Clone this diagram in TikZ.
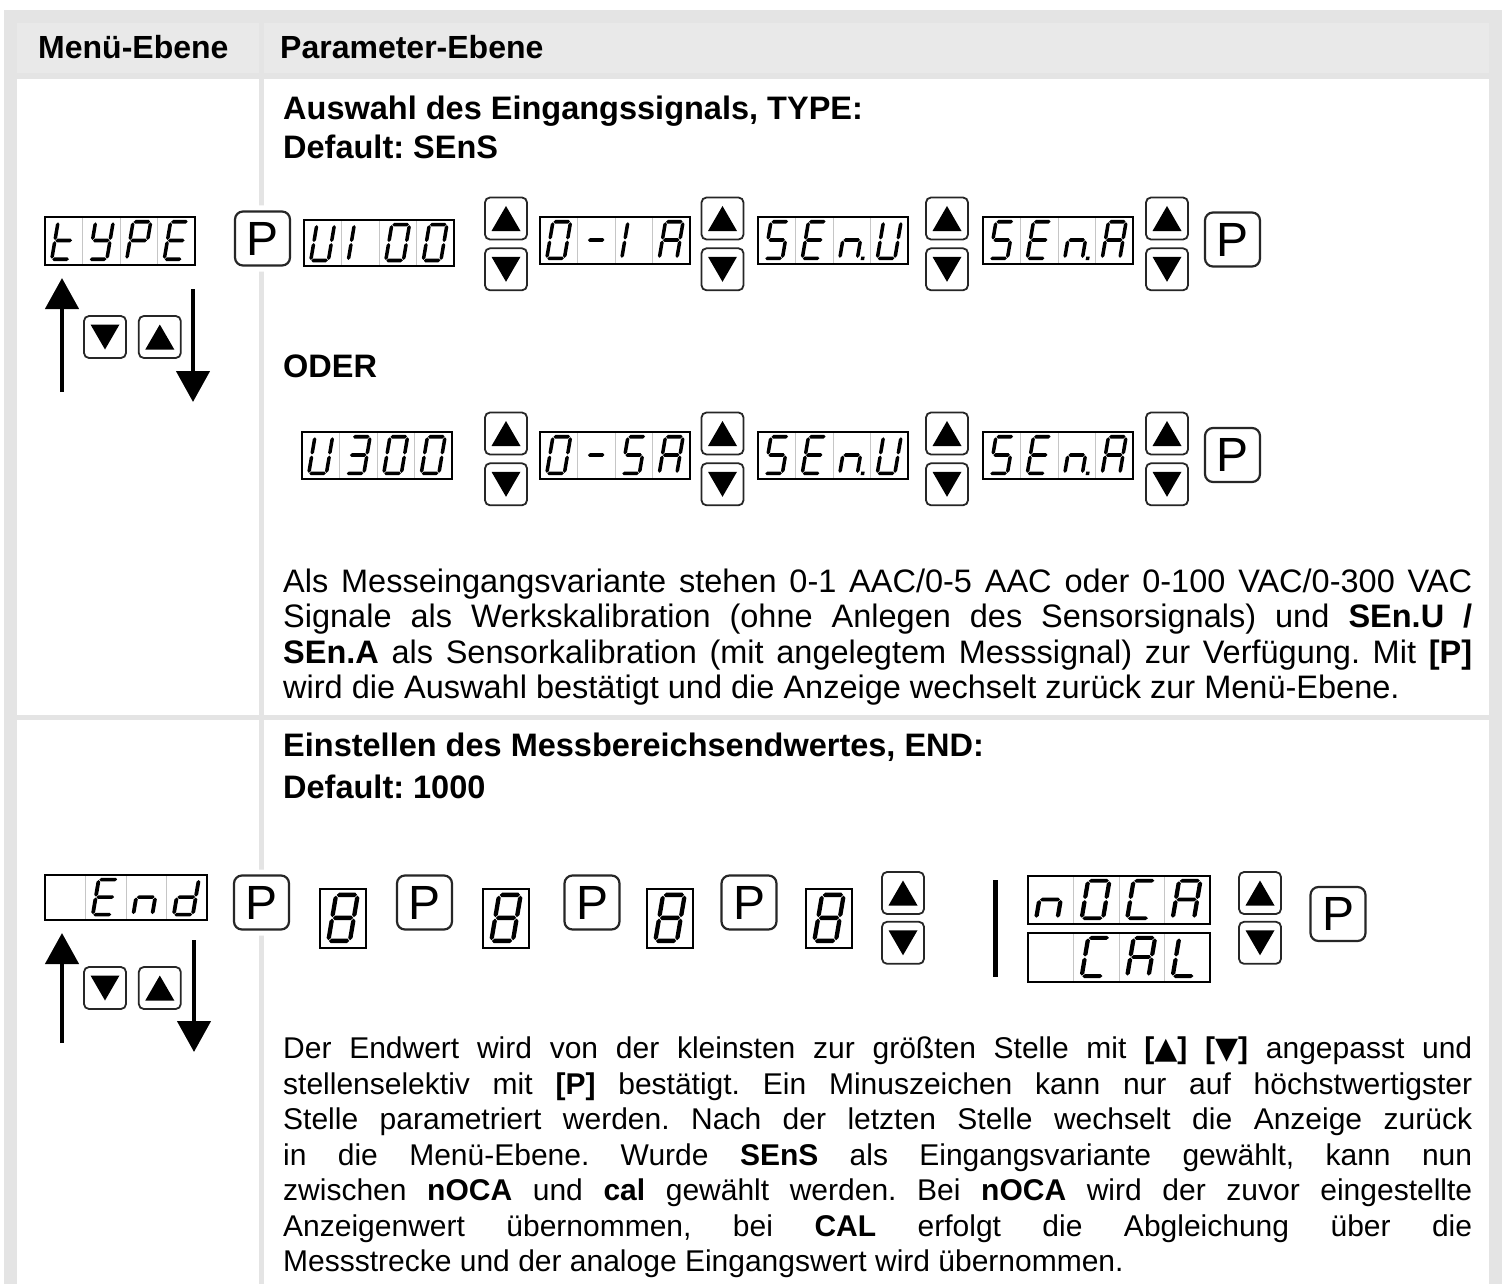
\documentclass[tikz,border=0pt]{standalone}
\usepackage{fontspec}
\setmainfont{Liberation Sans}
\newfontfamily\symfont{DejaVu Sans}
\usepackage{xcolor}
\usetikzlibrary{arrows.meta,positioning,calc}

\definecolor{framegray}{HTML}{E4E4E4}
\definecolor{headgray}{HTML}{E9E9E9}

% seven-segment glyphs on a 10 x 20 grid
\newcommand{\lcdh}[1]{(0.3,#1)--(1.3,#1+1)--(8.7,#1+1)--(9.7,#1)--(8.7,#1-1)--(1.3,#1-1)--cycle}
\newcommand{\lcdv}[2]{(#1,#2+0.3)--(#1+1,#2+1.3)--(#1+1,#2+8.7)--(#1,#2+9.7)--(#1-1,#2+8.7)--(#1-1,#2+1.3)--cycle}
\newcommand{\lcdsega}{\lcdh{20}}
\newcommand{\lcdsegb}{\lcdv{10}{10}}
\newcommand{\lcdsegc}{\lcdv{10}{0}}
\newcommand{\lcdsegd}{\lcdh{0}}
\newcommand{\lcdsege}{\lcdv{0}{0}}
\newcommand{\lcdsegf}{\lcdv{0}{10}}
\newcommand{\lcdsegg}{\lcdh{10}}
\newcommand{\lcdsegp}{(12,-1) rectangle (14,1)}
\newcommand{\lcdsegx}{}

% display: name, north west, cells, cell width, height, segments per cell
\newcommand{\lcd}[6]{%
  \foreach \k in {1,...,#3}
    \draw[lcdsep] ($#2+(\k*#4,0)$) -- ++(0,#5);
  \node[lcdbox, minimum width=#3*#4pt, minimum height=#5pt] (#1) at #2 {};
  \foreach \segs [count=\i from 0] in {#6} {
    \begin{scope}[shift={($#2+(\i*#4+0.18*#4,0.88*#5)$)}, x=0.047*#4pt, y=0.039*#5pt, xslant=0.17]
      \foreach \s in \segs {\expandafter\fill\csname lcdseg\s\endcsname;}
    \end{scope}
  }
}

% arrow keys
\newcommand{\upkey}[2]{%
  \node[keybtn, #2] (#1) {};
  \fill ($(#1.center)+(0,-12.5)$) -- ($(#1.center)+(14.5,12.5)$) -- ($(#1.center)+(-14.5,12.5)$) -- cycle;}
\newcommand{\downkey}[2]{%
  \node[keybtn, #2] (#1) {};
  \fill ($(#1.center)+(0,12.5)$) -- ($(#1.center)+(14.5,-12.5)$) -- ($(#1.center)+(-14.5,-12.5)$) -- cycle;}

\begin{document}
\frenchspacing
\begin{tikzpicture}[x=1pt, y=-1pt,
    lcdbox/.style={draw=black, line width=1.3pt, inner sep=0pt, outer sep=0pt, anchor=north west},
    lcdsep/.style={draw=gray!45, line width=1pt},
    keybtn/.style={draw=black!85, line width=1.8pt, rounded corners=5pt, fill=white,
                   minimum width=42pt, minimum height=42pt, inner sep=0pt},
    pkey/.style={draw=black!85, line width=2.2pt, rounded corners=8pt, fill=white,
                 minimum width=55pt, minimum height=54pt, inner sep=0pt,
                 font=\fontsize{48}{48}\selectfont, preaction={draw=white, line width=12pt}},
    headtxt/.style={anchor=base west, inner sep=0pt, font=\fontsize{32}{38}\selectfont\bfseries},
    titletxt/.style={anchor=base west, inner sep=0pt, font=\fontsize{32.5}{38}\selectfont\bfseries},
    bodytxt/.style={anchor=north west, inner sep=0pt, text width=1189pt, align=justify},
    menuarrow/.style={line width=4.5pt, -{Triangle[width=33pt,length=31pt]}},
]
\useasboundingbox (0,0) rectangle (1504,1284);

% Table frame
\fill[framegray] (4,10) rectangle (1502,1284);
\fill[headgray] (17,23) rectangle (259,73);
\fill[headgray] (264,23) rectangle (1489,73);
\fill[white] (17,79) rectangle (259,715);
\fill[white] (264,79) rectangle (1489,715);
\fill[white] (17,720) rectangle (259,1284);
\fill[white] (264,720) rectangle (1489,1284);

% Header
\node[headtxt] (hmenu) at (38,58.5) {Menü-Ebene};
\node[headtxt] (hparam) at (280,58.5) {Parameter-Ebene};

% TYPE: titles
\node[titletxt] (typetitle) at (283,119.5) {Auswahl des Eingangssignals, TYPE:};
\node[titletxt] (typedef) at (283,159) {Default: SEnS};

% TYPE: menu level
\lcd{typedisp}{(45,217)}{4}{37.5}{48}{{d,e,f,g},{b,c,d,f,g},{a,b,e,f,g},{a,d,e,f,g}}
\downkey{typedn}{at={(105,337)}}
\upkey{typeup}{right=11pt of typedn}
\coordinate (tyA0) at (62,392);
\coordinate (tyA1) at (62,278);
\coordinate (tyB0) at (193,289);
\coordinate (tyB1) at (193,402);
\draw[menuarrow] (tyA0) -- (tyA1);
\draw[menuarrow] (tyB0) -- (tyB1);

% TYPE: first chain
\node[pkey] (typep) at (262.5,238.5) {P};
\lcd{ui100}{(304,220)}{4}{37.5}{46}{{b,c,d,e,f},{e,f},{a,b,c,d,e,f},{a,b,c,d,e,f}}
\upkey{ua1}{at={(506,218.5)}}
\downkey{da1}{below=7pt of ua1}
\lcd{zeroone}{(540,217)}{4}{37.5}{47}{{a,b,c,d,e,f},{g},{e,f},{a,b,c,e,f,g}}
\upkey{ua2}{at={(722.5,218.5)}}
\downkey{da2}{below=7pt of ua2}
\lcd{senua}{(758,217)}{4}{37.5}{47}{{a,c,d,f,g},{a,d,e,f,g},{c,e,g,p},{b,c,d,e,f}}
\upkey{ua3}{at={(947,218.5)}}
\downkey{da3}{below=7pt of ua3}
\lcd{senaa}{(983,217)}{4}{37.5}{47}{{a,c,d,f,g},{a,d,e,f,g},{c,e,g,p},{a,b,c,e,f,g}}
\upkey{ua4}{at={(1167,218.5)}}
\downkey{da4}{below=7pt of ua4}
\node[pkey] (typepa) at (1232.5,239.5) {P};

% TYPE: second chain
\node[titletxt] (oder) at (283,377) {ODER};
\lcd{u300}{(302,432)}{4}{37.5}{47}{{b,c,d,e,f},{a,b,c,d,g},{a,b,c,d,e,f},{a,b,c,d,e,f}}
\upkey{ub1}{at={(506,433.5)}}
\downkey{db1}{below=7pt of ub1}
\lcd{zerofive}{(540,432)}{4}{37.5}{47}{{a,b,c,d,e,f},{g},{a,c,d,f,g},{a,b,c,e,f,g}}
\upkey{ub2}{at={(722.5,433.5)}}
\downkey{db2}{below=7pt of ub2}
\lcd{senub}{(758,432)}{4}{37.5}{47}{{a,c,d,f,g},{a,d,e,f,g},{c,e,g,p},{b,c,d,e,f}}
\upkey{ub3}{at={(947,433.5)}}
\downkey{db3}{below=7pt of ub3}
\lcd{senab}{(983,432)}{4}{37.5}{47}{{a,c,d,f,g},{a,d,e,f,g},{c,e,g,p},{a,b,c,e,f,g}}
\upkey{ub4}{at={(1167,433.5)}}
\downkey{db4}{below=7pt of ub4}
\node[pkey] (typepb) at (1232.5,455) {P};

% TYPE: text
\node[bodytxt, font=\fontsize{32.5}{35.5}\selectfont] (typetext) at (283,568.5) {Als Messeingangsvariante stehen 0-1 AAC/0-5 AAC oder 0-100 VAC/0-300 VAC\linebreak
Signale als Werkskalibration (ohne Anlegen des Sensorsignals) und \textbf{SEn.U /}\linebreak
\textbf{SEn.A} als Sensorkalibration (mit angelegtem Messsignal) zur Verfügung. Mit \textbf{[P]}\linebreak
wird die Auswahl bestätigt und die Anzeige wechselt zurück zur Menü-Ebene.};

% END: titles
\node[titletxt] (endtitle) at (283,756) {Einstellen des Messbereichsendwertes, END:};
\node[titletxt] (enddef) at (283,798) {Default: 1000};

% END: menu level
\lcd{enddisp}{(45,875)}{4}{40.5}{45}{{x},{a,d,e,f,g},{c,e,g},{b,c,d,e,g}}
\downkey{enddn}{at={(105,988)}}
\upkey{endup}{right=11pt of enddn}
\coordinate (enA0) at (62,1043);
\coordinate (enA1) at (62,933);
\coordinate (enB0) at (194,940);
\coordinate (enB1) at (194,1052);
\draw[menuarrow] (enA0) -- (enA1);
\draw[menuarrow] (enB0) -- (enB1);

% END: digit by digit
\node[pkey] (endp) at (261.5,902.5) {P};
\lcd{digone}{(320,889)}{1}{46}{59}{{a,b,c,d,e,f,g}}
\node[pkey] (digonep) at (424.5,902.5) {P};
\lcd{digtwo}{(483,889)}{1}{46}{59}{{a,b,c,d,e,f,g}}
\node[pkey] (digtwop) at (592,902.5) {P};
\lcd{digthree}{(647,889)}{1}{46}{59}{{a,b,c,d,e,f,g}}
\node[pkey] (digthreep) at (749,902.5) {P};
\lcd{digfour}{(806,889)}{1}{46}{59}{{a,b,c,d,e,f,g}}
\upkey{digup}{at={(903,893)}}
\downkey{digdn}{below=6pt of digup}

% END: nOCA / CAL
\coordinate (bar0) at (995,880);
\coordinate (bar1) at (995,977);
\draw[line width=5pt] (bar0) -- (bar1);
\lcd{nocadisp}{(1028,876)}{4}{45.5}{48}{{c,e,g},{a,b,c,d,e,f},{a,d,e,f},{a,b,c,e,f,g}}
\lcd{caldisp}{(1028,933)}{4}{45.5}{49}{{x},{a,d,e,f},{a,b,c,e,f,g},{d,e,f}}
\upkey{calup}{at={(1260,893)}}
\downkey{caldn}{below=6pt of calup}
\node[pkey] (calp) at (1338,914) {P};

% END: text
\node[bodytxt, font=\fontsize{30}{35.5}\selectfont] (endtext) at (283,1037) {Der Endwert wird von der kleinsten zur größten Stelle mit \textbf{[{\symfont▲}] [{\symfont▼}]} angepasst und\linebreak
stellenselektiv mit \textbf{[P]} bestätigt. Ein Minuszeichen kann nur auf höchstwertigster\linebreak
Stelle parametriert werden. Nach der letzten Stelle wechselt die Anzeige zurück\linebreak
in die Menü-Ebene. Wurde \textbf{SEnS} als Eingangsvariante gewählt, kann nun\linebreak
zwischen \textbf{nOCA} und \textbf{cal} gewählt werden. Bei \textbf{nOCA} wird der zuvor eingestellte\linebreak
Anzeigenwert übernommen, bei \textbf{CAL} erfolgt die Abgleichung über die\linebreak
Messstrecke und der analoge Eingangswert wird übernommen.};
\end{tikzpicture}
\end{document}
